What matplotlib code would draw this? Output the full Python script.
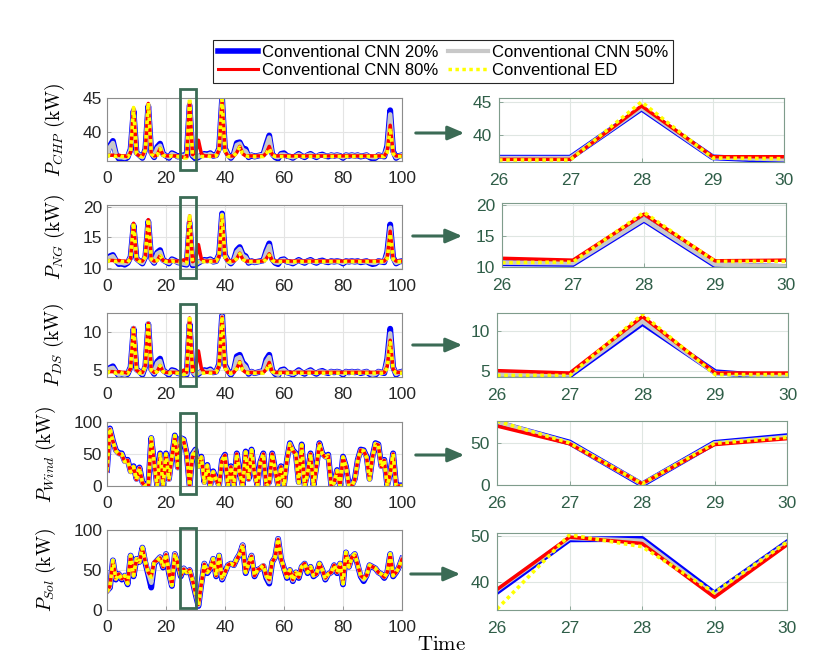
import matplotlib.pyplot as plt
from matplotlib.lines import Line2D
from matplotlib.patches import Rectangle, FancyArrowPatch

plt.rcParams['font.family'] = ['Liberation Sans', 'DejaVu Sans']
plt.rcParams['mathtext.fontset'] = 'cm'

t = list(range(101))
t_zoom = [26, 27, 28, 29, 30]

labels = ['Conventional CNN 20%', 'Conventional CNN 80%',
          'Conventional CNN 50%', 'Conventional ED']
ylabels = [r'$P_{CHP}\ \mathrm{(kW)}$', r'$P_{NG}\ \mathrm{(kW)}$', r'$P_{DS}\ \mathrm{(kW)}$',
           r'$P_{Wind}\ \mathrm{(kW)}$', r'$P_{Sol}\ \mathrm{(kW)}$']

# ---------------- CHP ----------------
ed_chp = [36.4, 36.6, 36.5, 36.4, 36.6, 36.4, 36.4, 36.3, 37.0, 43.6,
          36.8, 36.4, 36.4, 37.4, 44.3, 36.8, 36.4, 36.6, 37.6, 36.6,
          36.4, 36.4, 36.5, 36.4, 36.4, 36.3, 36.2, 36.2, 45.0, 36.5,
          36.3, 36.5, 36.4, 36.4, 36.5, 36.4, 36.4, 36.5, 37.4, 44.8,
          37.2, 36.4, 36.4, 36.5, 37.0, 37.8, 36.8, 36.5, 36.4, 36.4,
          36.4, 36.4, 36.4, 36.4, 36.8, 37.6, 36.6, 36.4, 36.4, 36.4,
          36.4, 36.4, 36.4, 36.4, 36.4, 36.4, 36.4, 36.4, 36.4, 36.4,
          36.4, 36.4, 36.4, 36.4, 36.4, 36.4, 36.4, 36.4, 36.4, 36.4,
          36.4, 36.4, 36.4, 36.4, 36.4, 36.4, 36.4, 36.4, 36.4, 36.4,
          36.4, 36.4, 36.4, 36.4, 36.4, 37.0, 40.6, 36.8, 36.4, 36.4,
          36.4]
red_chp = [36.5, 36.6, 36.6, 36.5, 36.6, 36.5, 36.5, 36.4, 37.0, 43.5,
           36.8, 36.5, 36.5, 37.4, 44.2, 36.8, 36.5, 36.6, 37.6, 36.6,
           36.5, 36.5, 36.5, 36.5, 36.5, 36.4, 36.3, 36.3, 44.4, 36.7,
           36.8, 38.8, 36.8, 36.5, 36.5, 36.5, 36.5, 36.5, 37.4, 44.6,
           37.2, 36.5, 36.5, 36.5, 37.0, 37.9, 36.8, 36.5, 36.5, 36.5,
           36.5, 36.5, 36.5, 36.5, 36.9, 37.9, 36.7, 36.5, 36.5, 36.5,
           36.5, 36.5, 36.5, 36.5, 36.5, 36.5, 36.5, 36.5, 36.5, 36.5,
           36.5, 36.5, 36.5, 36.5, 36.5, 36.5, 36.5, 36.5, 36.5, 36.5,
           36.5, 36.5, 36.5, 36.5, 36.5, 36.5, 36.5, 36.5, 36.5, 36.5,
           36.5, 36.5, 36.5, 36.5, 36.5, 37.2, 41.0, 37.0, 36.5, 36.5,
           36.5]
c20_chp = [36.8, 38.0, 38.7, 36.8, 36.1, 36.2, 36.0, 36.3, 37.5, 43.1,
           37.0, 36.6, 36.2, 37.5, 43.8, 37.0, 36.3, 37.8, 38.3, 36.8,
           36.5, 36.2, 36.9, 36.7, 36.4, 36.5, 36.6, 36.6, 43.9, 36.5,
           36.1, 36.3, 36.6, 36.8, 36.7, 36.9, 36.5, 36.6, 37.6, 44.8,
           37.6, 36.7, 36.2, 36.8, 38.4, 38.5, 37.6, 37.5, 36.3, 36.6,
           36.4, 36.5, 36.6, 36.7, 38.2, 39.5, 36.8, 36.3, 36.1, 36.8,
           36.9, 36.5, 36.4, 36.2, 36.5, 36.8, 36.5, 36.3, 36.6, 36.8,
           36.5, 36.3, 36.6, 36.7, 36.5, 36.4, 36.6, 36.5, 36.6, 36.5,
           36.2, 36.6, 36.5, 36.6, 36.5, 36.6, 36.4, 36.5, 36.6, 36.3,
           36.1, 36.2, 36.6, 36.5, 36.4, 38.0, 43.2, 37.2, 36.2, 36.5,
           36.6]
c50_chp = [36.7, 37.8, 38.4, 36.7, 36.3, 36.3, 36.2, 36.4, 37.4, 43.3,
           36.9, 36.6, 36.3, 37.4, 44.0, 36.9, 36.4, 37.6, 38.0, 36.7,
           36.5, 36.3, 36.8, 36.6, 36.4, 36.5, 36.5, 36.5, 44.1, 36.6,
           36.3, 36.4, 36.6, 36.7, 36.6, 36.8, 36.5, 36.6, 37.5, 44.8,
           37.5, 36.6, 36.3, 36.7, 38.1, 38.3, 37.4, 37.2, 36.4, 36.6,
           36.4, 36.5, 36.6, 36.6, 37.9, 39.2, 36.7, 36.4, 36.3, 36.7,
           36.7, 36.5, 36.4, 36.3, 36.5, 36.7, 36.5, 36.4, 36.6, 36.7,
           36.5, 36.4, 36.6, 36.6, 36.5, 36.5, 36.6, 36.5, 36.6, 36.5,
           36.3, 36.6, 36.5, 36.6, 36.5, 36.6, 36.5, 36.5, 36.6, 36.4,
           36.3, 36.3, 36.6, 36.5, 36.5, 37.7, 42.6, 37.0, 36.3, 36.5,
           36.6]

# ---------------- NG ----------------
ed_ng = [11.0, 11.2, 11.1, 11.0, 11.2, 11.0, 11.0, 10.9, 11.5, 17.4,
         11.4, 11.0, 11.0, 11.9, 18.0, 11.4, 11.0, 11.2, 12.0, 11.2,
         11.0, 11.0, 11.1, 11.0, 11.0, 10.9, 10.7, 10.8, 18.8, 10.9,
         10.8, 11.1, 11.0, 11.0, 11.1, 11.0, 11.0, 11.1, 11.9, 18.6,
         11.7, 11.0, 11.0, 11.1, 11.5, 12.3, 11.4, 11.1, 11.0, 11.0,
         11.0, 11.0, 11.0, 11.0, 11.4, 12.1, 11.2, 11.0, 11.0, 11.0,
         11.0, 11.0, 11.0, 11.0, 11.0, 11.0, 11.0, 11.0, 11.0, 11.0,
         11.0, 11.0, 11.0, 11.0, 11.0, 11.0, 11.0, 11.0, 11.0, 11.0,
         11.0, 11.0, 11.0, 11.0, 11.0, 11.0, 11.0, 11.0, 11.0, 11.0,
         11.0, 11.0, 11.0, 11.0, 11.0, 11.5, 15.6, 11.4, 11.0, 11.0,
         11.0]
red_ng = [11.1, 11.2, 11.2, 11.1, 11.2, 11.1, 11.1, 11.0, 11.5, 17.3,
          11.4, 11.1, 11.1, 11.9, 17.9, 11.4, 11.1, 11.2, 12.0, 11.2,
          11.1, 11.1, 11.1, 11.1, 11.1, 11.1, 11.3, 11.0, 18.5, 11.0,
          11.3, 13.8, 11.4, 11.1, 11.1, 11.1, 11.1, 11.1, 11.9, 18.4,
          11.7, 11.1, 11.1, 11.1, 11.5, 12.4, 11.4, 11.1, 11.1, 11.1,
          11.1, 11.1, 11.1, 11.1, 11.5, 12.3, 11.2, 11.1, 11.1, 11.1,
          11.1, 11.1, 11.1, 11.1, 11.1, 11.1, 11.1, 11.1, 11.1, 11.1,
          11.1, 11.1, 11.1, 11.1, 11.1, 11.1, 11.1, 11.1, 11.1, 11.1,
          11.1, 11.1, 11.1, 11.1, 11.1, 11.1, 11.1, 11.1, 11.1, 11.1,
          11.1, 11.1, 11.1, 11.1, 11.1, 11.7, 16.0, 11.5, 11.1, 11.1,
          11.1]
c20_ng = [11.3, 11.9, 12.1, 11.2, 10.6, 10.7, 10.5, 10.8, 11.8, 17.0,
          11.5, 11.1, 10.7, 11.8, 17.6, 11.5, 10.8, 12.5, 12.9, 11.3,
          11.0, 10.7, 11.4, 11.2, 10.9, 10.8, 10.6, 10.5, 17.4, 10.4,
          10.5, 10.8, 11.1, 11.3, 11.2, 11.4, 11.0, 11.1, 12.2, 18.9,
          12.1, 11.2, 10.7, 11.3, 12.9, 13.4, 12.2, 11.9, 10.8, 11.1,
          10.9, 11.0, 11.1, 11.2, 12.8, 14.0, 11.4, 10.8, 10.6, 11.3,
          11.4, 11.0, 10.9, 10.7, 11.0, 11.3, 11.0, 10.8, 11.1, 11.3,
          11.0, 10.8, 11.1, 11.2, 11.0, 10.9, 11.1, 11.0, 11.1, 11.0,
          10.7, 11.1, 11.0, 11.1, 11.0, 11.1, 10.9, 11.0, 11.1, 10.8,
          10.6, 10.7, 11.1, 11.0, 10.9, 12.6, 17.1, 11.7, 10.7, 11.0,
          11.1]
c50_ng = [11.2, 11.7, 11.9, 11.2, 10.8, 10.8, 10.7, 10.9, 11.7, 17.1,
          11.4, 11.1, 10.8, 11.8, 17.7, 11.4, 10.9, 12.3, 12.6, 11.2,
          11.0, 10.8, 11.3, 11.1, 10.9, 10.8, 10.7, 10.6, 17.7, 10.6,
          10.6, 10.9, 11.1, 11.2, 11.1, 11.3, 11.0, 11.1, 12.1, 18.7,
          12.0, 11.1, 10.8, 11.2, 12.6, 13.1, 12.0, 11.7, 10.9, 11.1,
          10.9, 11.0, 11.1, 11.1, 12.5, 13.6, 11.3, 10.9, 10.8, 11.2,
          11.3, 11.0, 10.9, 10.8, 11.0, 11.2, 11.0, 10.9, 11.1, 11.2,
          11.0, 10.9, 11.1, 11.1, 11.0, 11.0, 11.1, 11.0, 11.1, 11.0,
          10.8, 11.1, 11.0, 11.1, 11.0, 11.1, 11.0, 11.0, 11.1, 10.9,
          10.8, 10.8, 11.1, 11.0, 11.0, 12.3, 16.6, 11.5, 10.8, 11.0,
          11.1]

# ---------------- DS ----------------
ed_ds = [4.6, 4.8, 4.7, 4.6, 4.8, 4.6, 4.6, 4.5, 5.2, 10.6,
         5.0, 4.6, 4.6, 5.6, 11.2, 5.0, 4.6, 4.8, 5.6, 4.8,
         4.6, 4.6, 4.7, 4.6, 4.6, 4.5, 4.4, 4.5, 12.1, 4.6,
         4.5, 4.7, 4.6, 4.6, 4.7, 4.6, 4.6, 4.7, 5.6, 12.0,
         5.3, 4.6, 4.6, 4.7, 5.2, 6.0, 5.0, 4.7, 4.6, 4.6,
         4.6, 4.6, 4.6, 4.6, 5.0, 5.8, 4.8, 4.6, 4.6, 4.6,
         4.6, 4.6, 4.6, 4.6, 4.6, 4.6, 4.6, 4.6, 4.6, 4.6,
         4.6, 4.6, 4.6, 4.6, 4.6, 4.6, 4.6, 4.6, 4.6, 4.6,
         4.6, 4.6, 4.6, 4.6, 4.6, 4.6, 4.6, 4.6, 4.6, 4.6,
         4.6, 4.6, 4.6, 4.6, 4.6, 5.3, 8.6, 5.0, 4.6, 4.6,
         4.6]
red_ds = [4.7, 4.8, 4.8, 4.7, 4.8, 4.7, 4.7, 4.6, 5.2, 10.5,
          5.0, 4.7, 4.7, 5.6, 11.1, 5.0, 4.7, 4.8, 5.6, 4.8,
          4.7, 4.7, 4.7, 4.7, 4.7, 4.7, 5.0, 4.7, 11.8, 4.8,
          5.1, 7.5, 5.2, 4.7, 4.7, 4.7, 4.7, 4.7, 5.6, 11.9,
          5.3, 4.7, 4.7, 4.7, 5.2, 6.1, 5.0, 4.7, 4.7, 4.7,
          4.7, 4.7, 4.7, 4.7, 5.1, 6.0, 4.8, 4.7, 4.7, 4.7,
          4.7, 4.7, 4.7, 4.7, 4.7, 4.7, 4.7, 4.7, 4.7, 4.7,
          4.7, 4.7, 4.7, 4.7, 4.7, 4.7, 4.7, 4.7, 4.7, 4.7,
          4.7, 4.7, 4.7, 4.7, 4.7, 4.7, 4.7, 4.7, 4.7, 4.7,
          4.7, 4.7, 4.7, 4.7, 4.7, 5.5, 8.9, 5.1, 4.7, 4.7,
          4.7]
c20_ds = [4.9, 5.3, 5.5, 4.8, 4.3, 4.4, 4.2, 4.5, 5.4, 10.4,
          5.1, 4.8, 4.4, 5.5, 11.0, 5.1, 4.5, 6.1, 6.5, 5.0,
          4.7, 4.4, 5.0, 4.9, 4.6, 4.5, 4.4, 4.4, 11.0, 4.9,
          4.3, 4.5, 4.8, 5.0, 4.9, 5.1, 4.7, 4.8, 5.8, 12.1,
          5.7, 4.9, 4.4, 5.0, 6.8, 7.0, 6.0, 5.6, 4.5, 4.8,
          4.6, 4.7, 4.8, 4.9, 6.4, 7.0, 5.0, 4.5, 4.3, 5.0,
          5.1, 4.7, 4.6, 4.4, 4.7, 5.0, 4.7, 4.5, 4.8, 5.0,
          4.7, 4.5, 4.8, 4.9, 4.7, 4.6, 4.8, 4.7, 4.8, 4.7,
          4.4, 4.8, 4.7, 4.8, 4.7, 4.8, 4.6, 4.7, 4.8, 4.5,
          4.3, 4.4, 4.8, 4.7, 4.6, 6.5, 10.4, 5.4, 4.4, 4.7,
          4.8]
c50_ds = [4.8, 5.2, 5.3, 4.8, 4.4, 4.5, 4.4, 4.6, 5.3, 10.5,
          5.0, 4.8, 4.5, 5.5, 11.1, 5.0, 4.6, 5.9, 6.2, 4.9,
          4.7, 4.5, 4.9, 4.8, 4.6, 4.5, 4.5, 4.5, 11.3, 4.8,
          4.4, 4.6, 4.8, 4.9, 4.8, 5.0, 4.7, 4.8, 5.7, 12.0,
          5.6, 4.8, 4.5, 4.9, 6.5, 6.7, 5.8, 5.4, 4.6, 4.8,
          4.6, 4.7, 4.8, 4.8, 6.1, 6.7, 4.9, 4.6, 4.4, 4.9,
          5.0, 4.7, 4.6, 4.5, 4.7, 4.9, 4.7, 4.6, 4.8, 4.9,
          4.7, 4.6, 4.8, 4.8, 4.7, 4.7, 4.8, 4.7, 4.8, 4.7,
          4.5, 4.8, 4.7, 4.8, 4.7, 4.8, 4.7, 4.7, 4.8, 4.6,
          4.4, 4.5, 4.8, 4.7, 4.7, 6.2, 9.8, 5.3, 4.5, 4.7,
          4.8]

# ---------------- Wind ----------------
ed_wind = [24, 90, 70, 55, 50, 50, 38, 40, 22, 30,
           10, 28, 5, 0, 0, 75, 35, 0, 50, 0,
           50, 10, 45, 79, 28, 75, 72, 50, 0, 48,
           55, 30, 45, 5, 32, 0, 22, 10, 0, 40,
           48, 0, 30, 0, 50, 20, 0, 53, 10, 56,
           20, 0, 37, 50, 0, 5, 50, 25, 0, 30,
           0, 40, 66, 55, 50, 5, 64, 0, 20, 50,
           0, 30, 66, 50, 45, 48, 0, 5, 24, 0,
           45, 30, 0, 0, 10, 40, 56, 55, 45, 10,
           45, 66, 64, 30, 40, 0, 20, 50, 0, 0,
           0]
red_wind = [24, 88, 70, 55, 50, 49, 38, 40, 22, 30,
            10, 28, 5, 0, 0, 74, 35, 0, 50, 0,
            50, 10, 45, 77, 28, 74, 70, 49, 1, 46,
            53, 30, 45, 5, 32, 0, 22, 10, 0, 40,
            48, 0, 30, 0, 50, 20, 0, 53, 10, 55,
            20, 0, 37, 50, 0, 5, 50, 25, 0, 30,
            0, 40, 65, 55, 50, 5, 64, 0, 20, 50,
            0, 30, 66, 50, 45, 48, 0, 5, 24, 0,
            45, 30, 0, 0, 10, 40, 56, 55, 45, 10,
            45, 65, 64, 30, 40, 0, 20, 50, 0, 0,
            0]
c20_wind = [25, 90, 71, 56, 51, 51, 39, 41, 23, 31,
            11, 29, 6, 1, 1, 75, 36, 1, 51, 1,
            51, 11, 46, 79, 29, 75, 73, 51, 0, 50,
            57, 31, 46, 6, 33, 1, 23, 11, 1, 41,
            49, 1, 31, 1, 51, 21, 1, 54, 11, 57,
            21, 1, 38, 51, 1, 6, 51, 26, 1, 31,
            1, 41, 67, 56, 51, 6, 65, 1, 21, 51,
            1, 31, 67, 51, 46, 49, 1, 6, 25, 1,
            46, 31, 1, 1, 11, 41, 57, 56, 46, 11,
            46, 67, 65, 31, 41, 1, 21, 51, 1, 1,
            1]
c50_wind = [24, 89, 70, 55, 50, 50, 38, 40, 22, 30,
            10, 28, 5, 0, 0, 75, 35, 0, 50, 0,
            50, 10, 45, 78, 28, 75, 72, 50, 0, 49,
            56, 30, 45, 5, 32, 0, 22, 10, 0, 40,
            48, 0, 30, 0, 50, 20, 0, 53, 10, 56,
            20, 0, 37, 50, 0, 5, 50, 25, 0, 30,
            0, 40, 66, 55, 50, 5, 64, 0, 20, 50,
            0, 30, 66, 50, 45, 48, 0, 5, 24, 0,
            45, 30, 0, 0, 10, 40, 56, 55, 45, 10,
            45, 66, 64, 30, 40, 0, 20, 50, 0, 0,
            0]

# ---------------- Sol ----------------
ed_sol = [23, 29, 62, 39, 45, 39, 43, 33, 68, 43,
          64, 60, 78, 60, 47, 41, 60, 62, 66, 54,
          70, 47, 31, 70, 58, 43, 52, 47, 50, 37,
          21, 6, 33, 58, 47, 52, 64, 43, 68, 39,
          47, 56, 58, 56, 64, 70, 81, 47, 58, 68,
          43, 50, 52, 56, 43, 37, 60, 66, 89, 64,
          52, 41, 50, 37, 47, 41, 54, 58, 47, 54,
          43, 45, 58, 50, 39, 45, 47, 56, 47, 58,
          33, 72, 54, 66, 70, 56, 43, 39, 43, 56,
          54, 52, 47, 45, 41, 47, 70, 43, 47, 54,
          64]
red_sol = [23, 30, 61, 39, 45, 39, 43, 34, 67, 43,
           63, 60, 77, 60, 47, 42, 60, 62, 65, 54,
           69, 47, 32, 69, 58, 43, 51, 47, 50, 37,
           22, 7, 33, 57, 47, 52, 63, 43, 67, 40,
           47, 56, 58, 56, 63, 70, 80, 47, 58, 67,
           43, 50, 52, 56, 43, 38, 60, 66, 88, 64,
           52, 41, 50, 38, 47, 41, 54, 58, 47, 54,
           43, 45, 58, 50, 40, 45, 47, 56, 47, 58,
           34, 71, 54, 66, 69, 56, 43, 40, 43, 56,
           54, 52, 47, 45, 41, 47, 69, 43, 47, 54,
           63]
c20_sol = [24, 28, 62, 38, 45, 38, 43, 32, 68, 42,
           64, 60, 78, 59, 44, 28, 58, 62, 66, 53,
           70, 46, 30, 70, 58, 42, 52, 47, 50, 36,
           20, 5, 33, 58, 46, 52, 64, 42, 68, 38,
           47, 56, 58, 56, 64, 70, 81, 46, 58, 68,
           42, 50, 52, 55, 40, 33, 60, 66, 89, 64,
           52, 40, 50, 36, 47, 40, 54, 58, 46, 54,
           42, 45, 58, 50, 38, 45, 47, 56, 46, 58,
           32, 72, 54, 66, 70, 56, 42, 36, 43, 56,
           54, 52, 47, 45, 40, 47, 70, 42, 47, 54,
           64]
c50_sol = [23, 29, 62, 39, 45, 39, 43, 33, 68, 43,
           64, 60, 78, 60, 46, 34, 59, 62, 66, 54,
           70, 47, 31, 70, 58, 43, 52, 47, 50, 37,
           21, 6, 33, 58, 47, 52, 64, 43, 68, 39,
           47, 56, 58, 56, 64, 70, 81, 47, 58, 68,
           43, 50, 52, 56, 42, 35, 60, 66, 89, 64,
           52, 41, 50, 37, 47, 41, 54, 58, 47, 54,
           43, 45, 58, 50, 39, 45, 47, 56, 47, 58,
           33, 72, 54, 66, 70, 56, 43, 38, 43, 56,
           54, 52, 47, 45, 41, 47, 70, 43, 47, 54,
           64]

# ---------------- zoomed window t = 26..30 ----------------
zoom_ed_chp = [36.2, 36.2, 45.0, 36.5, 36.4]
zoom_red_chp = [36.3, 36.3, 44.4, 36.7, 36.7]
zoom_c20_chp = [36.55, 36.55, 44.0, 36.6, 36.1]
zoom_c50_chp = [36.5, 36.5, 44.1, 36.6, 36.3]

zoom_ed_ng = [10.7, 10.8, 18.8, 10.9, 10.9]
zoom_red_ng = [11.4, 11.1, 18.5, 11.0, 11.1]
zoom_c20_ng = [10.6, 10.5, 17.6, 10.3, 10.0]
zoom_c50_ng = [10.7, 10.6, 17.7, 10.4, 10.1]

zoom_ed_ds = [4.4, 4.4, 12.1, 4.5, 4.5]
zoom_red_ds = [5.0, 4.7, 11.8, 4.7, 4.7]
zoom_c20_ds = [4.4, 4.4, 11.0, 4.8, 4.1]
zoom_c50_ds = [4.5, 4.5, 11.2, 4.7, 4.3]

zoom_ed_wind = [76, 50, 1.5, 49.5, 56.5]
zoom_red_wind = [70, 49, 1.5, 48, 55]
zoom_c20_wind = [74, 50.5, 0.5, 50, 58]
zoom_c50_wind = [75, 50, 1, 49.5, 57]

zoom_ed_sol = [34.0, 50.3, 47.7, 37.6, 48.7]
zoom_red_sol = [38.3, 49.8, 48.4, 36.6, 48.1]
zoom_c20_sol = [37.8, 49.3, 49.4, 37.4, 48.6]
zoom_c50_sol = [38.2, 49.6, 49.0, 37.0, 48.4]

left_series = [(c20_chp, c50_chp, red_chp, ed_chp), (c20_ng, c50_ng, red_ng, ed_ng),
               (c20_ds, c50_ds, red_ds, ed_ds), (c20_wind, c50_wind, red_wind, ed_wind),
               (c20_sol, c50_sol, red_sol, ed_sol)]
right_series = [(zoom_c20_chp, zoom_c50_chp, zoom_red_chp, zoom_ed_chp),
                (zoom_c20_ng, zoom_c50_ng, zoom_red_ng, zoom_ed_ng),
                (zoom_c20_ds, zoom_c50_ds, zoom_red_ds, zoom_ed_ds),
                (zoom_c20_wind, zoom_c50_wind, zoom_red_wind, zoom_ed_wind),
                (zoom_c20_sol, zoom_c50_sol, zoom_red_sol, zoom_ed_sol)]

left_ylim = [(35.75, 45.0), (9.8, 20.3), (4.1, 12.45), (0, 100), (0, 100)]
left_yticks = [[40, 45], [10, 15, 20], [5, 10], [0, 50, 100], [0, 50, 100]]
right_ylim = [(35.9, 45.6), (10, 20.3), (4.2, 12.25), (0, 76), (33.8, 50.7)]
right_yticks = [[40, 45], [10, 15, 20], [5, 10], [0, 50], [40, 50]]

# layout in pixels (x0, y0, x1, y1) from top-left of the 830x659 canvas
W, H = 830, 659
left_boxes = [(107, 98, 402, 161), (107, 205, 402, 269), (107, 313, 402, 377),
              (107, 422, 402, 486), (107, 530, 402, 610)]
right_boxes = [(499, 98, 784, 162), (502, 203, 786, 267), (497, 313, 788, 377),
               (497, 421, 787, 485), (497, 533, 787, 610)]
arrows = [((413, 133), (467, 133)), ((410, 236), (465, 236)), ((410, 345), (465, 345)),
          ((413, 455), (467, 455)), ((408, 574), (463, 574))]
rect_y = [(-0.14, 1.145), (-0.14, 1.13), (-0.14, 1.14), (-0.125, 1.145), (0.025, 1.025)]
ylabel_x = [-0.135, -0.135, -0.14, -0.165, -0.165]

GREEN = '#3b6b55'
GREEN_TXT = '#2f5e48'


def px_box(b):
    x0, y0, x1, y1 = b
    return [x0 / W, 1 - y1 / H, (x1 - x0) / W, (y1 - y0) / H]


def draw_lines(ax, x, c20, c50, c80, ed):
    ax.plot(x, c20, color='#0000ff', lw=4.2)
    ax.plot(x, c50, color='#c8c8c8', lw=3.2)
    ax.plot(x, c80, color='#ff0000', lw=2.5)
    ax.plot(x, ed, color='#ffff00', lw=2.6, linestyle=(0, (1, 1)))


fig = plt.figure(figsize=(W / 100, H / 100), dpi=100)

for i in range(5):
    # overview panel
    ax = fig.add_axes(px_box(left_boxes[i]))
    draw_lines(ax, t, *left_series[i])
    ax.set_xlim(0, 100)
    ax.set_ylim(*left_ylim[i])
    ax.set_xticks(range(0, 101, 20))
    ax.set_yticks(left_yticks[i])
    ax.grid(True, color='#e4e4e4', lw=0.8)
    ax.set_axisbelow(True)
    ax.tick_params(direction='in', length=3, width=0.6, color='#8c8c8c',
                   labelcolor='#262626', labelsize=12.5)
    ax.tick_params(axis='x', pad=7)
    ax.tick_params(axis='y', pad=3.5)
    for s in ax.spines.values():
        s.set_color('#8c8c8c')
        s.set_linewidth(0.8)
    ax.set_ylabel(ylabels[i], fontsize=14)
    ax.yaxis.set_label_coords(ylabel_x[i], 0.5)
    y0, y1 = rect_y[i]
    ax.add_patch(Rectangle((24.8, y0), 5.2, y1 - y0, transform=ax.get_xaxis_transform(),
                           fill=False, edgecolor=GREEN, lw=2.0, clip_on=False, zorder=10))

    # zoomed panel
    az = fig.add_axes(px_box(right_boxes[i]))
    draw_lines(az, t_zoom, *right_series[i])
    az.set_xlim(26, 30)
    az.set_ylim(*right_ylim[i])
    az.set_xticks(t_zoom)
    az.set_yticks(right_yticks[i])
    az.grid(True, color='#dfe6e2', lw=0.8)
    az.set_axisbelow(True)
    az.tick_params(direction='in', length=3, width=0.6, color='#7f9c8c',
                   labelcolor=GREEN_TXT, labelsize=12.5)
    az.tick_params(axis='x', pad=8)
    az.tick_params(axis='y', pad=5)
    for s in az.spines.values():
        s.set_color('#7f9c8c')
        s.set_linewidth(0.8)

    (xa, ya), (xb, yb) = arrows[i]
    fig.patches.append(FancyArrowPatch((xa / W, 1 - ya / H), (xb / W, 1 - yb / H),
                                       transform=fig.transFigure,
                                       arrowstyle='-|>,head_length=0.7,head_width=0.3',
                                       mutation_scale=14, lw=2.2, color=GREEN))

fig.text(441 / W, 1 - 645 / H, r'$\mathrm{Time}$', ha='center', va='center', fontsize=15)

handles = [Line2D([], [], color='#0000ff', lw=4),
           Line2D([], [], color='#ff0000', lw=2.2),
           Line2D([], [], color='#c8c8c8', lw=3),
           Line2D([], [], color='#ffff00', lw=2.5, linestyle=(0, (1, 1)))]
leg = fig.legend(handles, labels, loc='center', bbox_to_anchor=(443 / W, 1 - 61.5 / H),
                 ncol=2, fontsize=12, fancybox=False, edgecolor='#262626', framealpha=1,
                 handlelength=2.4, handletextpad=0.25, columnspacing=0.6,
                 labelspacing=0.2, borderpad=0.3, borderaxespad=0)
leg.get_frame().set_linewidth(0.8)

fig.savefig('out.png', dpi=100)
